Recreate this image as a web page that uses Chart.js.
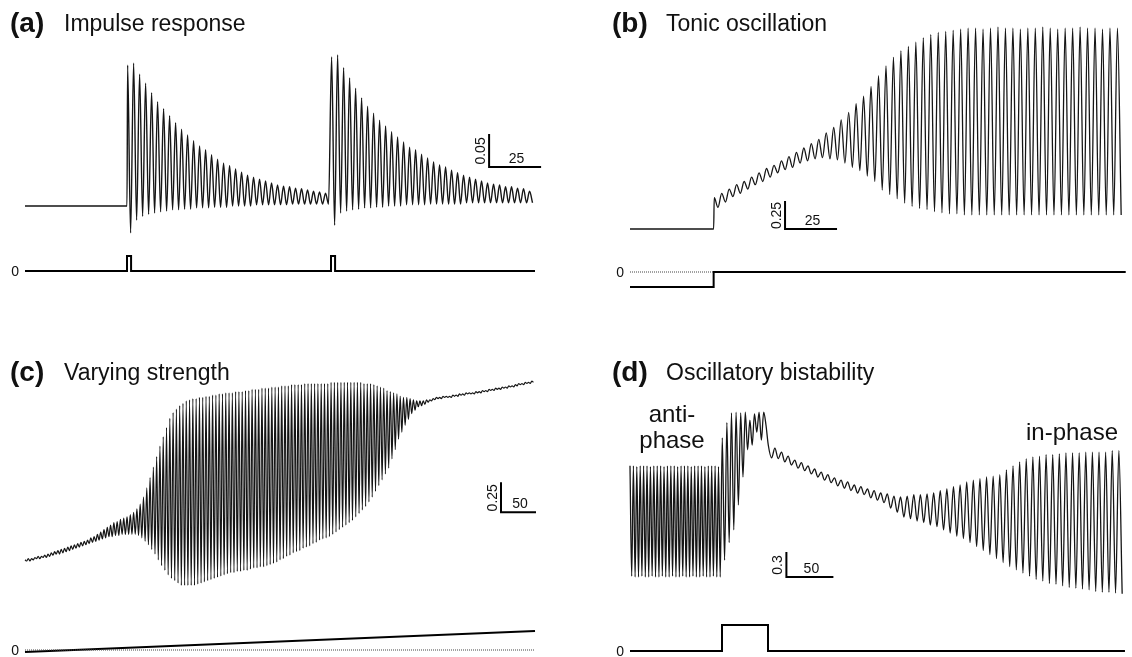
<!DOCTYPE html>
<html>
<head>
<meta charset="utf-8">
<script src="https://cdn.jsdelivr.net/npm/chart.js@4.4.1/dist/chart.umd.min.js"></script>
<style>
body{margin:0;background:#fff;width:1132px;height:657px;position:relative;overflow:hidden}
canvas{position:absolute}
</style>
</head>
<body>
<canvas id="pa" width="566" height="330" style="left:0;top:0"></canvas>
<canvas id="pb" width="566" height="330" style="left:566px;top:0"></canvas>
<canvas id="pc" width="566" height="327" style="left:0;top:330px"></canvas>
<canvas id="pd" width="566" height="327" style="left:566px;top:330px"></canvas>
<script>
// ---- (a) impulse response: peaks/troughs of each cycle, two bursts
const aPulseT=[0,50,50,52,52,150,150,152,152,250];
const aPulseV=[0,0,1,1,0,0,1,1,0,0];
const aBurstStart=[50,150];
const aPeriod=2.94;
const aPeak1=[0.220,0.223,0.206,0.192,0.177,0.163,0.152,0.141,0.130,0.120,0.111,0.102,0.094,0.088,0.080,0.073,0.067,0.063,0.058,0.053,0.048,0.045,0.042,0.039,0.036,0.033,0.031,0.030,0.028,0.027,0.025,0.023,0.022,0.020];
const aTrough1=[-0.042,-0.022,-0.016,-0.013,-0.011,-0.009,-0.008,-0.006,-0.006,-0.005,-0.005,-0.003,-0.003,-0.003,-0.002,-0.002,-0.002,0,0,0,0,0.002,0.002,0.002,0.002,0.002,0.002,0.003,0.003,0.003,0.003,0.003,0.003,0.003];
const aPeak2=[0.233,0.236,0.216,0.200,0.184,0.169,0.156,0.145,0.134,0.125,0.116,0.108,0.100,0.092,0.088,0.081,0.075,0.069,0.064,0.061,0.056,0.052,0.048,0.045,0.042,0.039,0.036,0.034,0.033,0.030,0.030,0.028,0.027,0.023];
const aTrough2=[-0.030,-0.011,-0.008,-0.006,-0.005,-0.003,-0.003,-0.002,-0.002,0,0,0,0.002,0.002,0.002,0.002,0.003,0.003,0.003,0.003,0.003,0.003,0.005,0.005,0.005,0.005,0.005,0.005,0.005,0.005,0.005,0.005,0.005,0.005];
const aBar=[227.5,0.061], aBarLen=[25,0.05];

// ---- (b) tonic oscillation
const bStimT=[0,41,41,243];
const bStimV=[-1,-1,0,0];
const bStep=41, bPeriod=3.66;
const bPeak=[0.29,0.33,0.37,0.41,0.44,0.48,0.52,0.56,0.59,0.63,
  0.67,0.71,0.75,0.79,0.83,0.89,0.94,1.01,1.08,1.16,
  1.23,1.32,1.42,1.51,1.59,1.65,1.69,1.73,1.77,1.80,
  1.82,1.83,1.84,1.85,1.86,1.86,1.85,1.86,1.87,1.86,
  1.86,1.85,1.86,1.86,1.87,1.86,1.85,1.86,1.86,1.87,
  1.86,1.86,1.85,1.86,1.86];
const bTrough=[0.20,0.25,0.30,0.33,0.37,0.41,0.44,0.48,0.52,0.55,
  0.57,0.61,0.63,0.65,0.66,0.65,0.64,0.61,0.57,0.54,
  0.49,0.44,0.36,0.32,0.28,0.24,0.21,0.19,0.18,0.16,
  0.15,0.14,0.14,0.13,0.13,0.13,0.13,0.13,0.13,0.13,
  0.13,0.13,0.13,0.13,0.13,0.13,0.13,0.13,0.13,0.13,
  0.13,0.13,0.13,0.13,0.13];
const bBar=[76,0], bBarLen=[25,0.25];

// ---- (c) varying strength
const cStimT=[0,750];
const cStimV=[-0.1,1.0];
const cPeriod=4.84;
const cPeak=[0.01,0.02,0.02,0.03,0.04,0.04,0.05,0.06,0.07,0.08,
  0.09,0.10,0.11,0.12,0.13,0.14,0.15,0.16,0.17,0.18,
  0.20,0.21,0.23,0.25,0.27,0.29,0.31,0.33,0.34,0.36,
  0.37,0.38,0.40,0.42,0.45,0.49,0.55,0.63,0.72,0.81,
  0.90,0.99,1.07,1.15,1.23,1.28,1.31,1.34,1.36,1.38,
  1.39,1.40,1.40,1.41,1.41,1.42,1.42,1.43,1.43,1.44,
  1.44,1.45,1.45,1.45,1.46,1.46,1.46,1.47,1.47,1.48,
  1.48,1.48,1.49,1.49,1.49,1.50,1.50,1.50,1.51,1.51,
  1.51,1.52,1.52,1.52,1.52,1.53,1.53,1.53,1.53,1.53,
  1.53,1.53,1.53,1.54,1.54,1.54,1.54,1.54,1.54,1.54,
  1.54,1.54,1.54,1.53,1.53,1.53,1.52,1.51,1.50,1.49,
  1.47,1.46,1.45,1.44,1.42,1.41,1.41,1.40,1.39,1.38,
  1.38,1.38,1.39,1.39,1.40,1.41,1.41,1.42,1.42,1.42,
  1.43,1.43,1.44,1.44,1.45,1.45,1.45,1.46,1.46,1.47,
  1.47,1.48,1.48,1.49,1.49,1.50,1.50,1.51,1.51,1.52,
  1.53,1.53,1.54,1.54,1.55];
const cTrough=[0.00,0.00,0.01,0.02,0.02,0.03,0.03,0.04,0.05,0.06,
  0.06,0.07,0.08,0.09,0.10,0.11,0.12,0.13,0.14,0.15,
  0.16,0.17,0.18,0.19,0.20,0.21,0.21,0.22,0.22,0.23,
  0.23,0.23,0.23,0.23,0.22,0.20,0.17,0.14,0.10,0.06,
  0.01,-0.04,-0.08,-0.12,-0.15,-0.17,-0.19,-0.21,-0.21,-0.21,
  -0.21,-0.21,-0.20,-0.19,-0.18,-0.17,-0.16,-0.15,-0.14,-0.13,
  -0.12,-0.11,-0.10,-0.10,-0.09,-0.09,-0.08,-0.08,-0.07,-0.06,
  -0.06,-0.05,-0.05,-0.04,-0.03,-0.02,-0.01,0.01,0.02,0.04,
  0.05,0.07,0.08,0.09,0.11,0.12,0.13,0.15,0.16,0.18,
  0.19,0.20,0.21,0.23,0.25,0.27,0.29,0.31,0.33,0.35,
  0.38,0.41,0.44,0.47,0.51,0.55,0.60,0.65,0.70,0.75,
  0.80,0.88,0.96,1.05,1.11,1.17,1.22,1.27,1.30,1.33,
  1.34,1.35,1.37,1.38,1.39,1.40,1.40,1.41,1.41,1.41,
  1.42,1.42,1.43,1.43,1.44,1.44,1.44,1.45,1.45,1.46,
  1.46,1.47,1.47,1.48,1.48,1.49,1.49,1.50,1.50,1.51,
  1.52,1.52,1.53,1.53,1.54];
const cBar=[700,0.42], cBarLen=[50,0.25];

// ---- (d) oscillatory bistability
const dStimT=[0,100,100,150,150,538];
const dStimV=[0,0,1,1,0,0];
const dSegStart=[0,100,150];
const dSegPeriod=[3.7,5.0,7.19];
const dAntiPeak=[1.39,1.39,1.38,1.39,1.39,1.39,1.38,1.39,1.39,1.39,1.38,1.39,1.39,1.39,1.38,1.39,1.39,1.39,1.38,1.39,1.39,1.39,1.38,1.39,1.39,1.39,1.38];
const dAntiTrough=[0.01,0,0,0.01,0,0,0.01,0,0,0.01,0,0,0.01,0,0,0.01,0,0,0.01,0,0,0.01,0,0,0.01,0,0];
const dSwitchPeak=[1.74,1.93,2.05,2.06,2.05,2.06,1.96,2.04,2.06,2.06];
const dSwitchTrough=[0.21,0.43,0.59,0.90,1.25,1.59,1.65,1.81,1.71,1.90];
const dInPeak=[1.65,1.61,1.56,1.51,1.46,1.43,1.39,1.35,1.31,1.28,
  1.24,1.21,1.19,1.15,1.13,1.10,1.08,1.05,1.04,1.01,
  1.00,1.01,1.03,1.03,1.04,1.05,1.08,1.10,1.13,1.15,
  1.19,1.21,1.23,1.25,1.26,1.28,1.34,1.39,1.44,1.48,
  1.50,1.51,1.53,1.53,1.54,1.55,1.55,1.55,1.56,1.56,
  1.56,1.56,1.58,1.58];
const dInTrough=[1.49,1.48,1.44,1.40,1.36,1.33,1.29,1.25,1.21,1.18,
  1.14,1.11,1.08,1.05,1.03,0.99,0.96,0.93,0.86,0.81,
  0.75,0.73,0.70,0.68,0.65,0.63,0.59,0.55,0.51,0.48,
  0.43,0.38,0.33,0.28,0.23,0.18,0.13,0.09,0.05,0.01,
  -0.03,-0.05,-0.08,-0.09,-0.11,-0.13,-0.14,-0.15,-0.16,-0.18,
  -0.19,-0.19,-0.20,-0.21];
const dBar=[170,0], dBarLen=[50,0.3];

const FONT='"Liberation Sans", Arial, Helvetica, sans-serif';
const INK='#151515';

function pts(ts,vs){ return ts.map((t,i)=>({x:t,y:vs[i]})); }
function zigzag(start,period,peaks,troughs,lead){
  const out=[];
  peaks.forEach((p,i)=>{
    out.push({x:start+lead+i*period,y:p});
    out.push({x:start+lead+(i+0.5)*period,y:troughs[i]});
  });
  return out;
}
function barPts(o,len){ return [{x:o[0],y:o[1]+len[1]},{x:o[0],y:o[1]},{x:o[0]+len[0],y:o[1]}]; }

const trace=(data,w)=>({data,yAxisID:'y',borderColor:INK,borderWidth:w||1.2,pointRadius:0,fill:false,cubicInterpolationMode:'monotone'});
const stim=(data)=>({data,yAxisID:'s',borderColor:'#000',borderWidth:2,pointRadius:0,fill:false});
const zero=(data)=>({data,yAxisID:'s',borderColor:'#444',borderWidth:1,borderDash:[1,1],pointRadius:0,fill:false});
const bar=(data)=>({data,yAxisID:'y',borderColor:'#000',borderWidth:2,pointRadius:0,fill:false,borderCapStyle:'square'});

function textPlugin(box,geo,barO,barL,labels){
  return {id:'txt',afterDatasetsDraw(chart){
    const c=chart.ctx, x=chart.scales.x, y=chart.scales.y, s=chart.scales.s;
    c.save();
    c.fillStyle='#111';
    // zero label of stimulus
    c.font='14px '+FONT; c.textAlign='right'; c.textBaseline='middle';
    c.fillText('0',x.getPixelForValue(0)-6,s.getPixelForValue(0)+1);
    // scale bar labels
    const bx=x.getPixelForValue(barO[0]), by=y.getPixelForValue(barO[1]);
    c.textAlign='center'; c.textBaseline='alphabetic';
    c.fillText(String(barL[0]),x.getPixelForValue(barO[0]+barL[0]/2)+2,by-4);
    c.save();
    c.translate(bx-4,y.getPixelForValue(barO[1]+barL[1]/2));
    c.rotate(-Math.PI/2);
    c.fillText(String(barL[1]),0,0);
    c.restore();
    // titles and annotations (page coordinates)
    c.translate(-box.left,-box.top);
    labels.forEach(l=>{
      c.font=l.font+' '+FONT; c.textAlign=l.align||'left'; c.textBaseline='alphabetic';
      c.fillText(l.text,l.x,l.y);
    });
    c.restore();
  }};
}

function panel(id,box,geo,datasets,barO,barL,labels){
  const xmin=(box.left-geo.x0)/geo.kx, xmax=(box.left+box.w-geo.x0)/geo.kx;
  const ymax=(geo.y0-box.top)/geo.ky, ymin=(geo.y0-box.top-box.h)/geo.ky;
  const smax=(geo.s0-box.top)/geo.ks, smin=(geo.s0-box.top-box.h)/geo.ks;
  datasets.push(bar(barPts(barO,barL)));
  return new Chart(document.getElementById(id),{
    type:'line',
    data:{datasets},
    options:{responsive:false,animation:false,devicePixelRatio:1,events:[],normalized:true,
      layout:{padding:0},
      plugins:{legend:{display:false},tooltip:{enabled:false}},
      elements:{point:{radius:0},line:{tension:0}},
      scales:{
        x:{type:'linear',min:xmin,max:xmax,display:false},
        y:{type:'linear',min:ymin,max:ymax,display:false},
        s:{type:'linear',min:smin,max:smax,display:false}
      }},
    plugins:[textPlugin(box,geo,barO,barL,labels)]
  });
}

// (a)
panel('pa',{left:0,top:0,w:566,h:330},{x0:25,kx:2.04,y0:206,ky:640,s0:271,ks:15},[
  trace([{x:0,y:0},{x:aBurstStart[0],y:0}]
    .concat(zigzag(aBurstStart[0],aPeriod,aPeak1,aTrough1,0.3))
    .concat(zigzag(aBurstStart[1],aPeriod,aPeak2,aTrough2,0.3)),1.4),
  stim(pts(aPulseT,aPulseV))
],aBar,aBarLen,[
  {text:'(a)',x:10,y:32,font:'bold 28px'},
  {text:'Impulse response',x:64,y:31,font:'23px'}
]);

// (b)
panel('pb',{left:566,top:0,w:566,h:330},{x0:630,kx:2.04,y0:229,ky:108,s0:272,ks:15},[
  trace([{x:0,y:0},{x:bStep,y:0}].concat(zigzag(bStep,bPeriod,bPeak,bTrough,0.3)),1.3),
  zero(pts([0,bStep],[0,0])),
  stim(pts(bStimT,bStimV))
],bBar,bBarLen,[
  {text:'(b)',x:612,y:32,font:'bold 28px'},
  {text:'Tonic oscillation',x:666,y:31,font:'23px'}
]);

// (c)
panel('pc',{left:0,top:330,w:566,h:327},{x0:25,kx:0.68,y0:561,ky:116,s0:650,ks:19},[
  trace(zigzag(0,cPeriod,cPeak,cTrough,0),1.2),
  zero(pts([0,750],[0,0])),
  stim(pts(cStimT,cStimV))
],cBar,cBarLen,[
  {text:'(c)',x:10,y:381,font:'bold 28px'},
  {text:'Varying strength',x:64,y:380,font:'23px'}
]);

// (d)
panel('pd',{left:566,top:330,w:566,h:327},{x0:630,kx:0.92,y0:577,ky:80,s0:651,ks:26},[
  trace(zigzag(dSegStart[0],dSegPeriod[0],dAntiPeak,dAntiTrough,0)
    .concat(zigzag(dSegStart[1],dSegPeriod[1],dSwitchPeak,dSwitchTrough,0.3))
    .concat(zigzag(dSegStart[2],dSegPeriod[2],dInPeak,dInTrough,0.3)),1.3),
  stim(pts(dStimT,dStimV))
],dBar,dBarLen,[
  {text:'(d)',x:612,y:381,font:'bold 28px'},
  {text:'Oscillatory bistability',x:666,y:380,font:'23px'},
  {text:'anti-',x:672,y:422,font:'24px',align:'center'},
  {text:'phase',x:672,y:448,font:'24px',align:'center'},
  {text:'in-phase',x:1072,y:440,font:'24px',align:'center'}
]);
</script>
</body>
</html>
